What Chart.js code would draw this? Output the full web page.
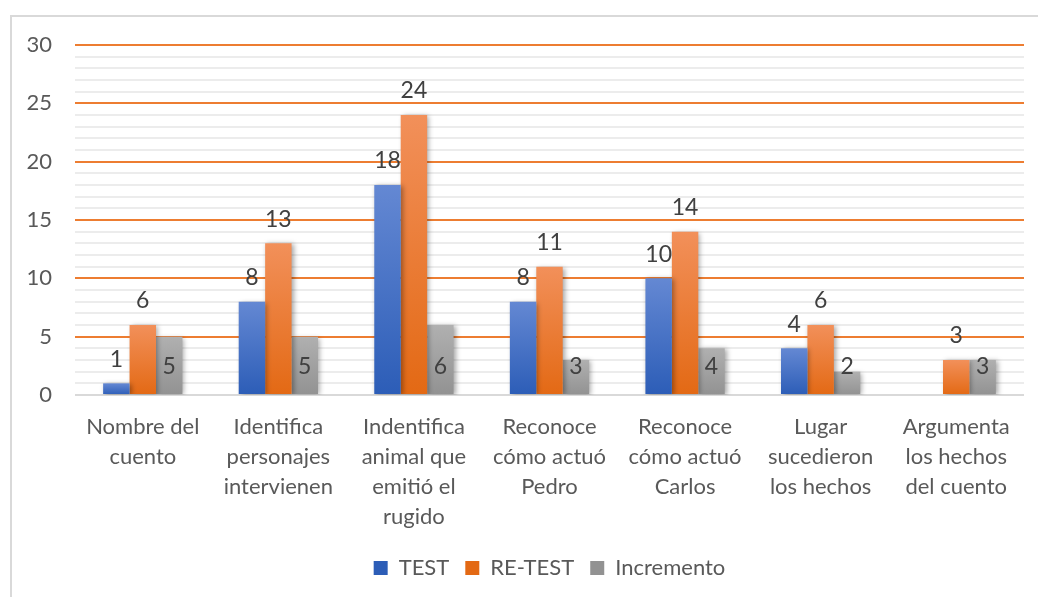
<!DOCTYPE html>
<html>
<head>
<meta charset="utf-8">
<script src="https://cdn.jsdelivr.net/npm/chart.js@4"></script>
<style>
  html, body { margin: 0; padding: 0; background: #fff; overflow: hidden; }
  #frame { position: absolute; left: 10px; top: 15px; width: 1100px; height: 700px;
           border-left: 2px solid #d9d9d9; border-top: 2px solid #d9d9d9; }
  #wrap { position: absolute; left: 0; top: 0; width: 1038px; height: 597px; }
</style>
</head>
<body>
<div id="frame"></div>
<div id="wrap"><canvas id="myChart"></canvas></div>
<script>
const categories = [
  ['Nombre del', 'cuento'],
  ['Identifica', 'personajes', 'intervienen'],
  ['Indentifica', 'animal que', 'emitió el', 'rugido'],
  ['Reconoce', 'cómo actuó', 'Pedro'],
  ['Reconoce', 'cómo actuó', 'Carlos'],
  ['Lugar', 'sucedieron', 'los hechos'],
  ['Argumenta', 'los hechos', 'del cuento']
];
const test = [1, 8, 18, 8, 10, 4, null];
const retest = [6, 13, 24, 11, 14, 6, 3];
const incremento = [5, 5, 6, 3, 4, 2, 3];

const FONT = 'Lato, "Open Sans", sans-serif';

// per-bar vertical gradient, lighter at the top
function barFill(top, bottom, solid) {
  return function (context) {
    if (context.type !== 'data') return solid;
    const chart = context.chart;
    const y = chart.scales.y;
    const v = context.raw;
    if (v == null || !chart.chartArea) return solid;
    const g = chart.ctx.createLinearGradient(0, y.getPixelForValue(v), 0, y.getPixelForValue(0));
    g.addColorStop(0, top);
    g.addColorStop(1, bottom);
    return g;
  };
}

const barLabels = {
  id: 'barLabels',
  afterLayout(chart) {
    // centre the legend under the plot area instead of the whole canvas
    const lg = chart.legend;
    if (lg) {
      const shift = (chart.chartArea.left + chart.chartArea.right) / 2 - (lg.left + lg.right) / 2;
      lg.left += shift;
      lg.right += shift;
    }
  },
  beforeDatasetsDraw(chart) {
    const ctx = chart.ctx;
    ctx.save();
    ctx.shadowColor = 'rgba(0,0,0,0.35)';
    ctx.shadowBlur = 5;
    ctx.shadowOffsetX = 2;
    ctx.shadowOffsetY = 1;
  },
  afterDatasetsDraw(chart) {
    const ctx = chart.ctx;
    ctx.restore();
    ctx.save();
    ctx.font = '23px ' + FONT;
    ctx.fillStyle = '#404040';
    ctx.textAlign = 'center';
    ctx.textBaseline = 'middle';
    chart.data.datasets.forEach((ds, i) => {
      const meta = chart.getDatasetMeta(i);
      meta.data.forEach((bar, j) => {
        const v = ds.data[j];
        if (v == null) return;
        if (i === 2) {
          ctx.fillText(v, bar.x, bar.base - 27);
        } else {
          ctx.fillText(v, bar.x, bar.y - 24);
        }
      });
    });
    ctx.restore();
  }
};

const ctx = document.getElementById('myChart');
new Chart(ctx, {
  type: 'bar',
  data: {
    labels: categories,
    datasets: [{
      label: 'TEST',
      data: test,
      backgroundColor: barFill('#6488d3', '#2c5db7', '#4472c4')
    },
    {
      label: 'RE-TEST',
      data: retest,
      backgroundColor: barFill('#f2905a', '#e36914', '#ed7d31')
    },
    {
      label: 'Incremento',
      data: incremento,
      backgroundColor: barFill('#b0b0b0', '#929292', '#a5a5a5')
    }]
  },
  plugins: [barLabels],
  options: {
    responsive: true,
    maintainAspectRatio: false,
    animation: false,
    layout: { padding: { top: 45, right: 14, bottom: 8, left: 0 } },
    datasets: {
      bar: { categoryPercentage: 0.585, barPercentage: 1.0, borderWidth: 0 }
    },
    plugins: {
      tooltip: { enabled: false },
      legend: {
        position: 'bottom',
        labels: {
          boxWidth: 14,
          boxHeight: 14,
          padding: 16,
          color: '#595959',
          font: { family: FONT, size: 22 }
        }
      }
    },
    scales: {
      x: {
        grid: { display: false },
        border: { display: false },
        afterFit(scale) { scale.height = 146; },
        ticks: {
          color: '#595959',
          padding: 9,
          maxRotation: 0,
          autoSkip: false,
          font: { family: FONT, size: 22, lineHeight: '30px' }
        }
      },
      y: {
        min: 0,
        max: 30,
        afterFit(scale) { scale.width = 75; },
        border: { display: false },
        grid: {
          drawTicks: false,
          lineWidth: 2,
          color(c) {
            const v = c.tick.value;
            if (v === 0) return '#d9d9d9';
            return v % 5 === 0 ? '#ed7d31' : '#ececec';
          }
        },
        ticks: {
          stepSize: 1,
          autoSkip: false,
          padding: 23,
          color: '#595959',
          font: { family: FONT, size: 22 },
          callback: (v) => (v % 5 === 0 ? v : '')
        }
      }
    }
  }
});
</script>
</body>
</html>
